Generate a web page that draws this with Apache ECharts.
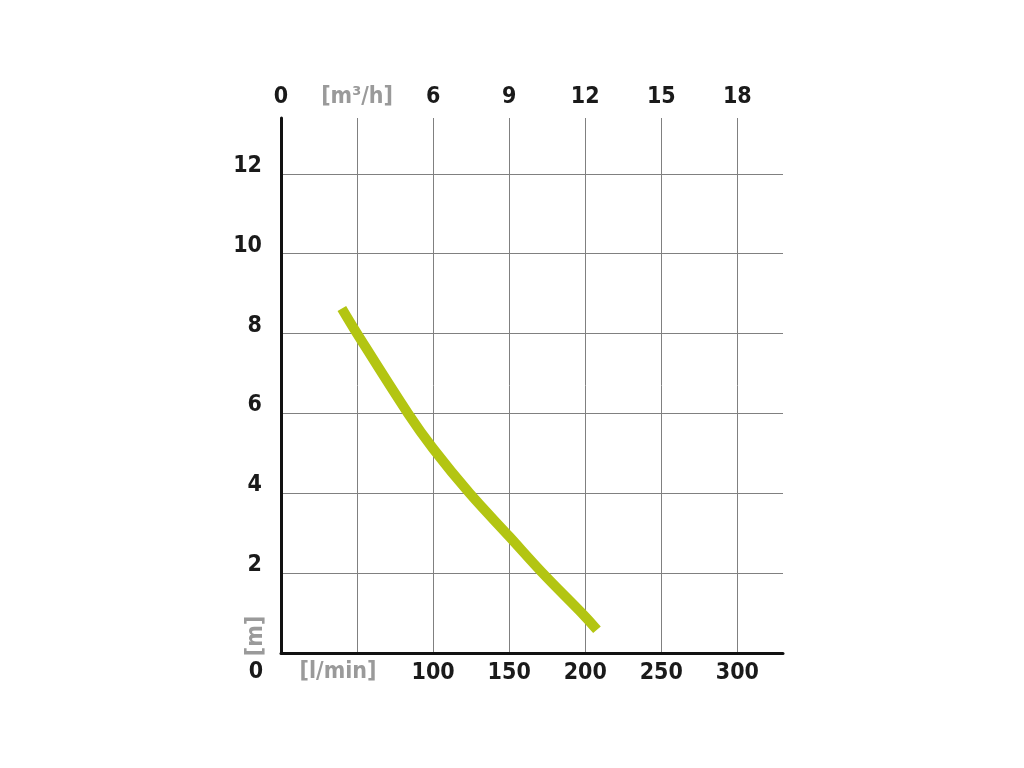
<!DOCTYPE html>
<html>
<head>
<meta charset="utf-8">
<script src="https://cdn.jsdelivr.net/npm/echarts@6/dist/echarts.min.js"></script>
<style>
html,body{margin:0;padding:0;background:#fff;}
#c{width:1024px;height:768px;}
</style>
</head>
<body>
<div id="c"></div>
<script>
// Data (flow in l/min, head in m)
var flowLmin = [40, 50, 83.5, 100, 124, 150, 172, 200, 207.7];
var headM    = [8.63, 8.0, 6.0, 5.12, 4.0, 2.92, 2.0, 0.91, 0.58];
var xTicks = [100, 150, 200, 250, 300];
var topTicks = [0, 6, 9, 12, 15, 18];
var yTicks = [2, 4, 6, 8, 10, 12];

var FONT = '"DejaVu Sans Condensed", "Liberation Sans Narrow", Roboto, sans-serif';
var FS = 23, FW = 'bold';
var chart = echarts.init(document.getElementById('c'));
var pts = flowLmin.map(function(x, i){ return [x, headM[i]]; });

chart.setOption({
  backgroundColor: '#fff',
  animation: false,
  grid: { left: 281, right: 241, top: 118, bottom: 115, containLabel: false },
  xAxis: [{
    type: 'value', position: 'bottom', min: 0, max: 330, interval: 50,
    axisLine: { show: true, lineStyle: { color: '#111', width: 3 } },
    axisTick: { show: false },
    splitLine: { show: true, showMinLine: false, showMaxLine: false, lineStyle: { color: '#808080', width: 1 } },
    axisLabel: {
      margin: 9, fontSize: FS, fontWeight: FW, color: '#1a1a1a', fontFamily: FONT,
      formatter: function(v){ return xTicks.indexOf(v) >= 0 ? String(v) : ''; }
    }
  }, {
    type: 'value', position: 'top', min: 0, max: 19.8, interval: 3,
    axisLine: { show: false }, axisTick: { show: false }, splitLine: { show: false },
    axisLabel: {
      margin: 9, fontSize: FS, fontWeight: FW, color: '#1a1a1a', fontFamily: FONT,
      formatter: function(v){
        if (v === 3) return '{u|[m³/h]}';
        return topTicks.indexOf(v) >= 0 ? String(v) : '';
      },
      rich: { u: { color: '#9a9a9a', fontSize: FS, fontWeight: FW, fontFamily: FONT } }
    }
  }],
  yAxis: {
    type: 'value', min: 0, max: 13.4, interval: 2,
    axisLine: { show: true, lineStyle: { color: '#111', width: 3 } },
    axisTick: { show: false },
    splitLine: { show: true, showMinLine: false, showMaxLine: false, lineStyle: { color: '#808080', width: 1 } },
    axisLabel: {
      margin: 19, fontSize: FS, fontWeight: FW, color: '#1a1a1a', fontFamily: FONT,
      verticalAlign: 'bottom', lineHeight: 16,
      formatter: function(v){ return yTicks.indexOf(v) >= 0 ? String(v) : ''; }
    }
  },
  graphic: [
    { type: 'text', x: 256, y: 672, style: { text: '0', fontSize: FS, fontWeight: FW, fill: '#1a1a1a', fontFamily: FONT, align: 'center', verticalAlign: 'middle' } },
    { type: 'text', x: 338, y: 672, style: { text: '[l/min]', fontSize: FS, fontWeight: FW, fill: '#9a9a9a', fontFamily: FONT, align: 'center', verticalAlign: 'middle' } },
    { type: 'text', x: 256, y: 636, rotation: Math.PI / 2, style: { text: '[m]', fontSize: FS, fontWeight: FW, fill: '#9a9a9a', fontFamily: FONT, align: 'center', verticalAlign: 'middle' } }
  ],
  series: [{
    type: 'line', xAxisIndex: 0, yAxisIndex: 0, data: pts, smooth: 0.35,
    showSymbol: false, lineStyle: { color: '#b3c512', width: 10, cap: 'butt' }
  }]
});
</script>
</body>
</html>
